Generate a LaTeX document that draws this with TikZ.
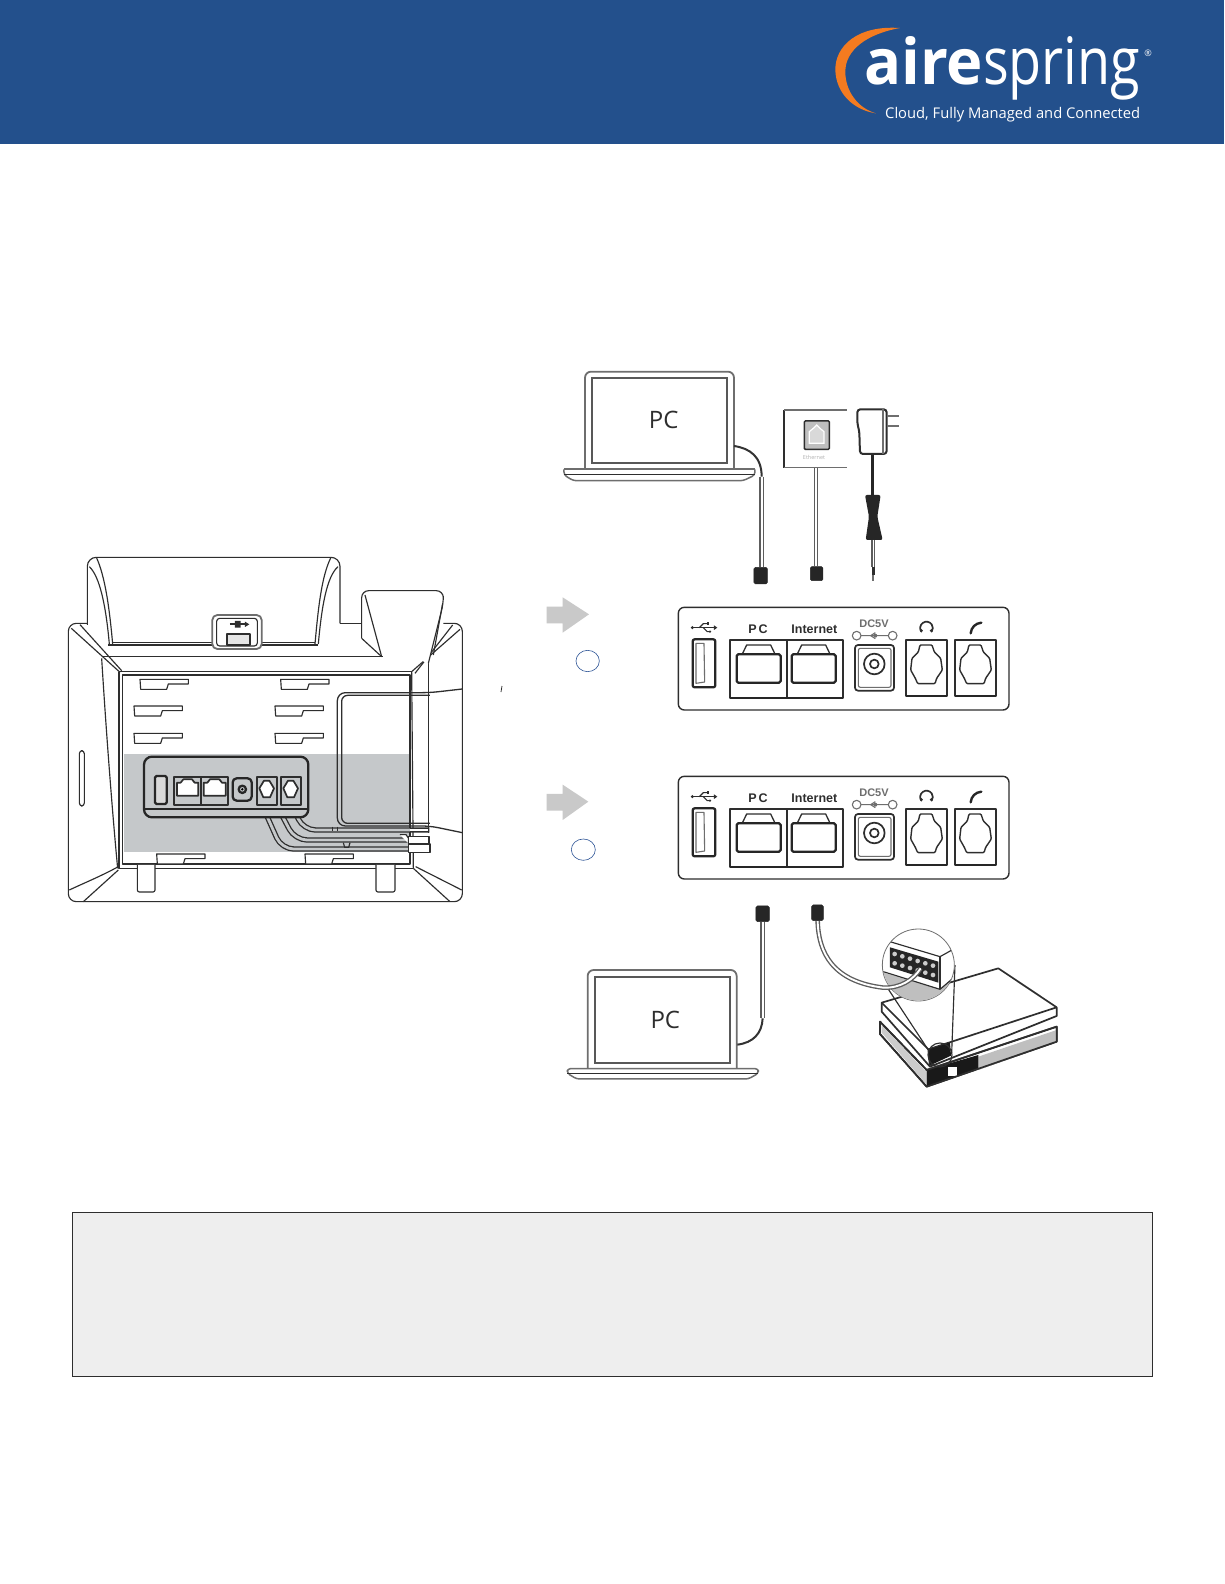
\documentclass[tikz,border=0pt]{standalone}
\usepackage{fontspec}
\setmainfont{Open Sans}
\newfontfamily\labfont{Liberation Sans}
\definecolor{hdr}{HTML}{23508C}
\definecolor{org}{HTML}{F47B20}
\definecolor{ink}{HTML}{2E2E2E}
\definecolor{mid}{HTML}{6E6E6E}
\definecolor{panelgray}{HTML}{C5C8CA}
\definecolor{arrowgray}{HTML}{C9C9C9}
\definecolor{ringblue}{HTML}{2F5597}
\tikzset{
  zoomed/.style={x=0.33333pt,y=-0.33333pt},
  thinl/.style={draw=ink,line width=1.15pt,line join=round},
  thickl/.style={draw=ink,line width=1.7pt,line join=round},
  heavyl/.style={draw=black!85,line width=2.3pt,line join=round},
  softl/.style={draw=mid,line width=1.8pt,line join=round},
  paneltxt/.style={inner sep=0pt,font=\labfont\bfseries\fontsize{12.5}{14}\selectfont,text=ink},
  pctxt/.style={inner sep=0pt,font=\fontsize{24}{28}\selectfont,text=ink},
  plug/.style={fill=black!85,draw=black!85,line width=0.5pt,rounded corners=1.5pt},
  cableo/.style={draw=mid!85!black,line width=4.6pt,line join=round},
  cablei/.style={draw=white,line width=1.9pt,line join=round},
}
% one RJ45 jack, x offset in zoom units
\newcommand{\rjjack}[1]{%
  \begin{scope}[shift={(#1,0)}]
    \draw[heavyl,rounded corners=1.5pt] (620,193) -- (752,193) -- (752,278) -- (620,278) -- cycle;
    \draw[thickl,line width=1.3pt] (638,190) -- (650,165) -- (722,165) -- (734,190);
  \end{scope}}
% one handset jack
\newcommand{\phjack}[1]{%
  \begin{scope}[shift={(#1,0)}]
    \draw[thickl] (1128,150) rectangle (1250,318);
    \draw[heavyl] (1128,317) -- (1250,317);
    \draw[thinl,line width=1.4pt,rounded corners=1pt] (1170,165) -- (1206,165) -- (1213,186) -- (1232,205) -- (1237,240) -- (1220,265) -- (1215,281) -- (1163,281) -- (1156,265) -- (1142,240) -- (1146,205) -- (1165,186) -- cycle;
  \end{scope}}
% rear port panel
\newcommand{\portpanel}[2]{%
  \begin{scope}[zoomed,shift={(1590,#1)}]
    \draw[thickl,line width=1.4pt,rounded corners=6pt] (445,52) rectangle (1437,360);
    % usb symbol
    \draw[thinl,line width=1.3pt] (487,113) -- (552,113);
    \fill[ink] (487,113) circle (5);
    \fill[ink] (552,106) -- (562,113) -- (552,120) -- cycle;
    \draw[thinl] (508,113) -- (520,101) -- (532,101);
    \fill[ink] (530,97) rectangle (538,105);
    \draw[thinl] (520,113) -- (532,125) -- (540,125);
    \fill[ink] (540,125) circle (4);
    % usb port
    \draw[heavyl,rounded corners=2pt] (488,148) rectangle (556,292);
    \draw[softl,line width=1.1pt] (498,160) -- (522,160) -- (524,276) -- (498,280) -- cycle;
    % network block
    \draw[thickl] (601,150) rectangle (938,325);
    \draw[thickl] (772,150) -- (772,325);
    \draw[heavyl] (601,324) -- (938,324);
    \rjjack{0}\rjjack{165}
    \node[paneltxt] (pclab#2) at (684,119) {P\,C};
    \node[paneltxt] (inetlab#2) at (853,119) {Internet};
    % DC
    \node[paneltxt,font=\labfont\bfseries\fontsize{11}{13}\selectfont,text=mid] (dclab#2) at (1032,100) {DC5V};
    \draw[softl,line width=1.1pt] (980,137) circle (13) (1088,137) circle (13) (993,137) -- (1075,137);
    \fill[mid] (1036,137) circle (6);
    \draw[softl,line width=1.1pt] (1022,137) -- (1036,128) (1022,137) -- (1036,146);
    \draw[thickl,rounded corners=3pt] (975,165) rectangle (1092,302);
    \draw[softl,line width=1.1pt,rounded corners=2pt] (985,175) rectangle (1083,292);
    \draw[thickl] (1033,222) circle (31);
    \draw[thickl] (1033,222) circle (13);
    % handset jacks
    \phjack{0}\phjack{147}
    % headset icon
    \draw[thickl,line cap=round] (1174,125) arc[start angle=145,end angle=395,radius=19];
    \fill[ink] (1174,122) circle (5) (1204,122) circle (5);
    % handset icon
    \draw[heavyl,line cap=round,line width=2.4pt] (1322,130) .. controls (1324,112) and (1336,100) .. (1354,98);
  \end{scope}}
\newcommand{\keyhole}[2]{%
  \draw[thinl,shift={(#1,#2)},fill=white] (0,0) -- (145,0) -- (145,14) -- (85,14) -- (80,30) -- (2,30) -- cycle;}
\begin{document}
\begin{tikzpicture}[x=1pt,y=-1pt]
\useasboundingbox (0,0) rectangle (1224,1584);
\fill[white] (0,0) rectangle (1224,1584);
% ---------- header ----------
\fill[hdr] (0,0) rectangle (1224,144);
\begin{scope}[zoomed,shift={(2460,30)}]
  \fill[org] (240,54) .. controls (110,45) and (45,110) .. (46,180)
     .. controls (48,250) and (100,300) .. (168,310)
     .. controls (115,295) and (76,245) .. (76,185)
     .. controls (76,120) and (140,72) .. (240,54) -- cycle;
\end{scope}
\node[anchor=base west,inner sep=0pt,text=white] (logoa) at (864,85) {\resizebox{119pt}{48pt}{\fontsize{60}{60}\selectfont\bfseries aire}};
\node[anchor=base west,inner sep=0pt,text=white] (logob) at (983,85) {\resizebox{157pt}{48pt}{\fontsize{60}{60}\selectfont spring}};
\node[anchor=center,inner sep=0pt,text=white,font=\fontsize{9}{9}\selectfont] (logor) at (1148,53) {®};
\node[anchor=base west,inner sep=0pt,text=white] (logot) at (885,118.5) {\resizebox{255pt}{!}{\fontsize{15}{15}\selectfont Cloud, Fully Managed and Connected}};
% ---------- phone, rear view ----------
\begin{scope}[zoomed,shift={(150,1620)}]
  \fill[panelgray] (222,642) rectangle (1080,935);
  % stand
  \draw[thinl,rounded corners=9pt] (112,255) -- (112,52) -- (870,52) -- (870,250);
  \draw[thinl] (140,54) .. controls (165,110) and (178,200) .. (188,312);
  \draw[thinl] (118,80) .. controls (150,110) and (168,200) .. (178,312);
  \draw[thinl] (842,54) .. controls (815,110) and (805,200) .. (795,312);
  \draw[thinl] (864,80) .. controls (830,110) and (815,200) .. (805,312);
  \draw[thinl] (175,315) -- (805,315);
  \draw[thinl] (188,308) -- (795,308);
  % usb on stand
  \draw[softl,fill=white,rounded corners=5pt] (487,225) rectangle (635,327);
  \draw[thinl,fill=white,rounded corners=3pt] (500,235) rectangle (622,318);
  \draw[thickl] (540,253) -- (585,253);
  \fill[ink] (585,245) -- (598,253) -- (585,261) -- cycle (555,243) rectangle (572,263);
  \draw[thickl,fill=black!10] (530,282) rectangle (600,314);
  % body
  \draw[thinl,rounded corners=8pt] (112,250) -- (55,250) -- (55,1085) -- (1237,1085) -- (1237,250) -- (1180,250);
  \draw[thinl] (870,250) -- (935,250);
  \draw[thinl] (64,265) -- (210,397);
  \draw[thinl] (90,254) -- (215,392);
  \draw[thinl] (155,350) -- (1000,350);
  \draw[thickl,line width=1.4pt] (207,395) -- (1085,395);
  \draw[thinl] (155,355) .. controls (170,600) and (190,850) .. (203,985);
  \draw[thinl] (207,395) -- (207,985) -- (1090,985);
  \draw[thinl] (218,405) -- (1080,405) -- (1080,972) -- (218,972) -- cycle;
  \draw[thinl] (1085,395) -- (1090,985);
  \draw[thinl] (1135,370) -- (1135,880);
  \draw[thinl] (1085,395) -- (1230,268);
  \draw[thinl] (1095,400) -- (1208,255);
  \draw[thinl] (205,980) .. controls (150,1010) and (100,1030) .. (58,1050);
  \draw[thinl] (205,990) -- (100,1085);
  \draw[thinl] (1090,985) -- (1200,1085);
  \draw[thinl] (1097,980) -- (1235,1050);
  % feet
  \draw[thinl,fill=white,rounded corners=2pt] (262,975) -- (262,1056) -- (315,1056) -- (315,975);
  \draw[thinl,fill=white,rounded corners=2pt] (978,975) -- (978,1056) -- (1035,1056) -- (1035,975);
  % slot
  \draw[thinl,rounded corners=3pt] (88,632) rectangle (103,798);
  % cradle
  \draw[thinl,fill=white,rounded corners=7pt] (935,295) -- (935,152) -- (1180,152) -- (1180,190) -- (1135,370);
  \draw[thinl] (935,295) -- (995,350);
  \draw[thinl] (945,165) -- (995,350);
  \draw[thinl] (1178,190) -- (1150,345);
  % key holes
  \keyhole{270}{418}\keyhole{692}{418}
  \keyhole{252}{498}\keyhole{675}{498}
  \keyhole{252}{580}\keyhole{675}{580}
  \keyhole{320}{942}\keyhole{765}{942}
  % handset cord loop
  \draw[thickl,line width=1.3pt,rounded corners=8pt] (1237,447) -- (1140,458) -- (862,458) -- (862,858) -- (1140,858) -- (1237,878);
  \draw[thickl,line width=1.3pt,rounded corners=6pt] (1140,466) -- (875,466) -- (875,850) -- (1140,850);
  % cables
  \draw[draw=ink,line width=5.4pt,line join=round,rounded corners=12pt] (735,815) -- (760,870) -- (1138,870);
  \draw[draw=panelgray,line width=2.8pt,line join=round,rounded corners=12pt] (735,815) -- (760,870) -- (1080,870);
  \draw[draw=white,line width=2.8pt] (1080,870) -- (1135,870);
  \draw[draw=ink,line width=5.4pt,line join=round,rounded corners=12pt] (690,815) -- (735,900) -- (1138,900);
  \draw[draw=panelgray,line width=2.8pt,line join=round,rounded corners=12pt] (690,815) -- (735,900) -- (1080,900);
  \draw[draw=white,line width=2.8pt] (1080,900) -- (1135,900);
  \draw[draw=ink,line width=5.4pt,line join=round,rounded corners=12pt] (645,815) -- (695,927) -- (1138,927);
  \draw[draw=panelgray,line width=2.8pt,line join=round,rounded corners=12pt] (645,815) -- (695,927) -- (1080,927);
  \draw[draw=white,line width=2.8pt] (1080,927) -- (1135,927);
  \draw[thinl] (848,860) -- (848,874) (862,860) -- (862,874);
  \draw[thinl] (880,908) -- (884,922) -- (896,922) -- (900,908);
  \draw[thinl,fill=white] (1050,884) -- (1068,884) -- (1075,894) -- (1075,910);
  % port panel
  \draw[heavyl,fill=panelgray,rounded corners=8pt] (282,650) rectangle (775,832);
  \draw[heavyl,line width=1.8pt] (283,806) -- (774,806);
  \draw[heavyl,fill=black!15,rounded corners=1.5pt] (315,708) rectangle (350,792);
  \draw[thickl] (373,710) rectangle (453,795) (453,710) rectangle (535,795);
  \draw[thickl,fill=white] (381,728) -- (392,728) -- (400,718) -- (426,718) -- (434,728) -- (445,728) -- (445,767) -- (381,767) -- cycle;
  \draw[thickl,fill=white] (461,728) -- (472,728) -- (480,718) -- (508,718) -- (516,728) -- (527,728) -- (527,767) -- (461,767) -- cycle;
  \draw[heavyl,rounded corners=4pt] (548,715) rectangle (605,782);
  \draw[heavyl] (577,748) circle (11);
  \fill[black] (577,748) circle (4);
  \draw[thickl] (620,710) rectangle (680,795) (692,710) rectangle (752,795);
  \draw[thickl,fill=white] (642,722) -- (658,722) -- (672,745) -- (660,772) -- (640,772) -- (628,745) -- cycle;
  \draw[thickl,fill=white] (714,722) -- (730,722) -- (744,745) -- (732,772) -- (712,772) -- (700,745) -- cycle;
  % cord plugs at right
  \draw[thinl,fill=white] (1075,890) rectangle (1137,912);
  \draw[thinl,fill=white] (1075,912) rectangle (1140,938);
\end{scope}
% stray tick
\draw[ink,line width=0.8pt] (501,692) -- (502,686);
% ---------- laptop, top ----------
\begin{scope}[zoomed,shift={(1620,1080)}]
  \draw[softl,rounded corners=6pt] (135,330) -- (135,35) -- (582,35) -- (582,330);
  \draw[draw=ink!80,line width=1.7pt] (155,53) rectangle (560,310);
  \draw[softl] (72,328) -- (645,328);
  \draw[softl,line width=1.5pt,rounded corners=3pt] (72,328) -- (72,345) -- (100,362) -- (610,362) -- (645,345) -- (645,328);
  \draw[ink,line width=1.5pt] (72,343) -- (645,343);
  \node[pctxt] (pctop) at (371,180) {PC};
  % cable
  \draw[draw=black!80,line width=2pt] (582,258) .. controls (630,265) and (665,290) .. (665,350);
  \draw[cableo] (665,350) -- (665,622);
  \draw[cablei] (665,350) -- (665,622);
  \draw[plug] (642,622) rectangle (682,672);
  % wall socket
  \draw[draw=ink,line width=1.8pt] (733,150) -- (733,325);
  \draw[softl,line width=1.2pt] (733,150) -- (920,150) (733,323) -- (920,323);
  \draw[draw=ink,fill=black!25,line width=1.5pt,rounded corners=1pt] (793,183) rectangle (868,268);
  \draw[draw=white,line width=1.2pt,fill=black!15] (808,250) -- (808,215) -- (820,205) -- (830,195) -- (840,205) -- (852,215) -- (852,250) -- cycle;
  \node[inner sep=0pt,text=black!30,font=\fontsize{5.5}{6}\selectfont] (ethlab) at (822,293) {Ethernet};
  \draw[cableo] (828,325) -- (828,618);
  \draw[cablei] (828,325) -- (828,618);
  \draw[plug] (811,620) rectangle (849,662);
  % adapter
  \draw[thickl,line width=2pt,rounded corners=3pt] (952,148) -- (1040,148) -- (1040,282) -- (960,282) -- (958,215) -- (952,190) -- cycle;
  \draw[softl] (1030,148) -- (1030,282);
  \draw[softl] (1040,168) -- (1078,168) (1040,198) -- (1078,198);
  \draw[draw=black!85,line width=3pt] (998,284) -- (998,405);
  \fill[black!85,rounded corners=2pt] (975,405) -- (1022,405) -- (1012,470) -- (1028,540) -- (977,540) -- (987,470) -- cycle;
  \draw[cableo,line width=4pt] (1000,540) -- (1000,620);
  \draw[cablei,line width=1.4pt] (1000,540) -- (1000,620);
  \draw[draw=ink,line width=3pt] (1000,620) -- (1000,645);
  \draw[draw=mid,line width=1.8pt] (1000,645) -- (1000,662);
\end{scope}
% ---------- grey arrows and rings ----------
\begin{scope}[zoomed,shift={(1590,1770)}]
  \fill[arrowgray] (50,50) -- (98,50) -- (98,22) -- (177,73) -- (98,128) -- (98,100) -- (50,100) -- cycle;
  \fill[arrowgray] (50,612) -- (98,612) -- (98,584) -- (175,635) -- (98,690) -- (98,662) -- (50,662) -- cycle;
  \draw[ringblue,line width=0.6pt] (173,213) ellipse (35 and 32);
  \draw[ringblue,line width=0.6pt] (160,779) ellipse (36 and 32);
\end{scope}
% ---------- port panels ----------
\portpanel{1770}{a}
\portpanel{2277}{b}
% ---------- bottom laptop and switch ----------
\begin{scope}[zoomed,shift={(1650,2670)}]
  \draw[softl,rounded corners=6pt] (113,535) -- (113,240) -- (560,240) -- (560,535);
  \draw[draw=ink!80,line width=1.7pt] (135,262) rectangle (540,520);
  \draw[softl,line width=1.5pt,rounded corners=3pt] (52,536) -- (52,550) -- (80,567) -- (595,567) -- (625,550) -- (625,536) -- cycle;
  \draw[ink,line width=1.5pt] (52,550) -- (625,550);
  \node[pctxt] (pcbot) at (346,390) {PC};
  \draw[cableo] (638,95) -- (638,385);
  \draw[cablei] (638,95) -- (638,385);
  \draw[draw=black!80,line width=2pt] (638,385) .. controls (636,430) and (610,458) .. (562,464);
  \draw[plug] (618,48) rectangle (658,95);
  % switch
  \draw[thickl,fill=white] (990,395) -- (1130,540) -- (1520,410) -- (1520,455) -- (1130,590) -- (990,432) -- cycle;
  \fill[black!25] (1285,500) -- (1520,420) -- (1520,455) -- (1285,540) -- cycle;
  \fill[black!90] (1130,540) -- (1285,495) -- (1285,535) -- (1130,590) -- cycle;
  \fill[white] (1195,532) rectangle (1220,558);
  \fill[black!20] (995,405) -- (1128,545) -- (1128,582) -- (995,428) -- cycle;
  \draw[thickl] (990,395) -- (1130,540) -- (1520,410) -- (1520,455) -- (1130,590) -- (990,432) -- cycle;
  \draw[thickl,fill=white] (995,338) -- (1345,235) -- (1520,352) -- (1520,378) -- (1140,530) -- (995,365) -- cycle;
  \draw[thickl] (995,338) -- (1135,478) -- (1520,352);
  \draw[thickl] (1135,478) -- (1140,530);
  \fill[black!90] (1136,479) -- (1200,458) -- (1203,497) -- (1141,526) -- cycle;
  \draw[thinl] (1170,495) circle (36);
  % magnifier
  \draw[thinl] (1010,290) -- (1135,480);
  \draw[thinl] (1215,225) -- (1205,490);
  \draw[draw=mid,line width=0.8pt,fill=white] (1105,225) circle (108);
  \begin{scope}
    \clip (1105,225) circle (107);
    \fill[black!25] (1000,248) -- (1170,298) -- (1210,260) -- (1210,340) -- (1000,340) -- cycle;
    \draw[thinl] (1003,150) -- (1170,200) -- (1215,175);
    \draw[thinl] (1000,245) -- (1170,298) -- (1215,260);
    \draw[thinl] (1170,200) -- (1170,298);
  \end{scope}
  \fill[black!85] (1020,172) -- (1165,215) -- (1165,278) -- (1020,232) -- cycle;
  \foreach \a in {0,1,2,3,4,5}{
    \fill[white!80!black] ({1034+\a*23},{192+\a*7}) circle (7);
    \fill[white!80!black] ({1034+\a*23},{220+\a*7}) circle (7);
  }
  % cable to switch
  \draw[cableo] (803,92) .. controls (805,190) and (850,275) .. (1000,293) .. controls (1050,295) and (1090,270) .. (1112,235);
  \draw[cablei] (803,92) .. controls (805,190) and (850,275) .. (1000,293) .. controls (1050,295) and (1090,270) .. (1112,235);
  \draw[plug] (785,45) rectangle (820,92);
\end{scope}
% ---------- note box ----------
\draw[fill=black!6.5,draw=ink,line width=0.8pt] (72,1212.5) rectangle (1152.5,1376);
\end{tikzpicture}
\end{document}
